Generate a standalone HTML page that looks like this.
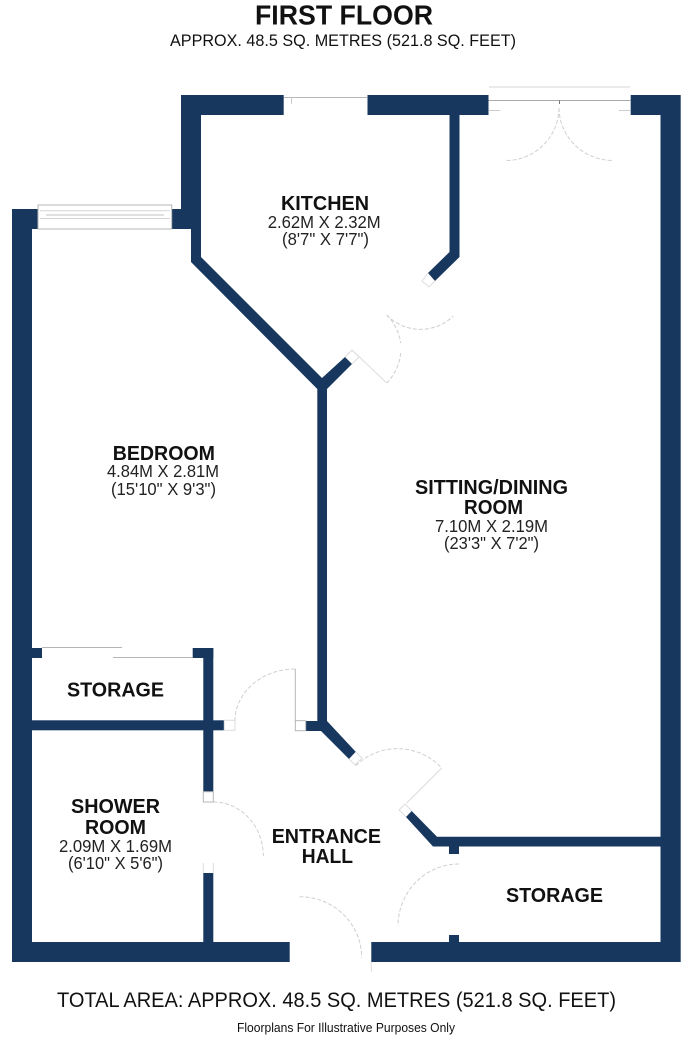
<!DOCTYPE html>
<html lang="en">
<head>
<meta charset="utf-8">
<title>First Floor</title>
<style>
html,body{margin:0;padding:0;background:#fff;width:690px;height:1040px;overflow:hidden}
svg{display:block}
text{font-family:"Liberation Sans",Arial,sans-serif;fill:#111}
.b{font-weight:bold;font-size:20px}
.r{font-size:17.5px;fill:#222}
.w{fill:#17375f;stroke:none}
.g{fill:none;stroke:#b5b5b5;stroke-width:1}
.l{fill:none;stroke:#ddd;stroke-width:1}
.d{fill:none;stroke:#cfcfcf;stroke-width:1;stroke-dasharray:4 2}
</style>
</head>
<body>
<svg width="690" height="1040" viewBox="0 0 690 1040" xmlns="http://www.w3.org/2000/svg">
<!-- outer walls -->
<polygon class="w" points="12,209 38,209 38,229 32,229 32,942 289.7,942 289.7,962 12,962"/>
<polygon class="w" points="371.3,942 660.5,942 660.5,115 630.7,115 630.7,95 680.7,95 680.7,962 371.3,962"/>
<polygon class="w" points="181,95 283.7,95 283.7,115 201,115 201,257 322,378 345,357 352,364 327,389 327,721 355.7,751.7 349,759 321,731 305.7,731 305.7,721 317.3,721 317.3,389 191,262 191,229 171.7,229 171.7,209 181,209"/>
<polygon class="w" points="367.5,95 488.5,95 488.5,115 459.5,115 459.5,257 435,281 428,273 449.5,252 449.5,115 367.5,115"/>
<!-- lower right wall -->
<polygon class="w" points="411.7,811 437,836.7 660.5,836.7 660.5,846.5 459,846.5 459,854 449,854 449,846.5 433,846.5 406,817"/>
<rect class="w" x="449" y="935" width="10" height="8"/>
<!-- interior walls left -->
<rect class="w" x="32" y="648" width="10" height="10"/>
<rect class="w" x="192.7" y="648" width="20.6" height="10"/>
<rect class="w" x="203.3" y="648" width="10" height="144"/>
<rect class="w" x="32" y="720.3" width="192.3" height="10"/>
<rect class="w" x="203.3" y="873" width="10" height="70"/>
<!-- jambs -->
<rect class="l" x="224.3" y="720.3" width="10.7" height="10"/>
<rect class="g" x="295.3" y="720.7" width="10.4" height="10"/>
<rect class="g" x="203.3" y="791.7" width="10" height="10.3"/>
<path class="l" d="M203.3 863V873M213.3 863V873"/>
<path class="l" d="M355.7 751.7L362 758L355 765L349 759"/>
<path class="l" d="M411.7 811L405 804L399 810L406 816.7"/>
<path class="l" d="M428 273L422 281L429 287L435 281"/>
<path class="l" d="M345 357L352 350L359 357L352 364"/>
<!-- windows -->
<rect class="g" x="38" y="205" width="133.7" height="24"/>
<path d="M40 210.7H170M40 218.5H170" stroke="#d5d5d5" stroke-width="1" fill="none"/>
<path d="M46 215H164" stroke="#d5d5d5" stroke-width="1.5" fill="none"/>
<path d="M284 97.5H367" stroke="#b5b5b5" stroke-width="1" fill="none"/>
<path d="M291.5 97V104" stroke="#ccc" stroke-width="1" fill="none"/>
<path d="M489 87H630" stroke="#d5d5d5" stroke-width="1" fill="none"/>
<path d="M488.5 100.5H630.7" stroke="#aaa" stroke-width="1" fill="none"/>
<path d="M489 110.5H500M619 110.5H630.7" stroke="#ccc" stroke-width="1" fill="none"/>
<path d="M559.5 100.5V104" stroke="#777" stroke-width="1" fill="none"/>
<!-- sliding storage doors -->
<path d="M42 647.5H122" stroke="#b5b5b5" stroke-width="1" fill="none"/>
<path d="M113 657.5H192.7" stroke="#b5b5b5" stroke-width="1" fill="none"/>
<!-- door swings -->
<path class="d" d="M559 108A53 53 0 0 1 506 160.5"/>
<path class="d" d="M559 108A54 53 0 0 0 613 160.5"/>
<path class="d" d="M386.7 315A47 47 0 0 0 453.3 316"/>
<path class="d" d="M386.7 315A49 49 0 0 1 400.7 343"/>
<path class="d" d="M400.7 353A49 49 0 0 1 386.7 383"/>
<path class="l" d="M386.7 383L352 350"/>
<path class="d" d="M295 669A60 52 0 0 0 235 720.7"/>
<path class="g" d="M295.3 669V720.7"/>
<path class="d" d="M213.3 802A50 54 0 0 1 263.3 856"/>
<path class="d" d="M355.7 765.7A60 60 0 0 1 441.7 768"/>
<path class="l" d="M441.7 768L406.7 803"/>
<path class="d" d="M299.5 896.7A62 61 0 0 1 361.7 957.7"/>
<path class="l" d="M371.3 962V972"/>
<path class="d" d="M459 864A61 62 0 0 0 398 925.7"/>
<!-- text -->
<text x="255" y="24.5" font-weight="bold" font-size="28" textLength="178" lengthAdjust="spacingAndGlyphs">FIRST FLOOR</text>
<text x="170" y="46" font-size="16.5" textLength="346" lengthAdjust="spacingAndGlyphs">APPROX. 48.5 SQ. METRES (521.8 SQ. FEET)</text>

<text class="b" x="281" y="210" textLength="88" lengthAdjust="spacingAndGlyphs">KITCHEN</text>
<text class="r" x="267.7" y="228" textLength="113" lengthAdjust="spacingAndGlyphs">2.62M X 2.32M</text>
<text class="r" x="282" y="245" textLength="87" lengthAdjust="spacingAndGlyphs">(8'7" X 7'7")</text>

<text class="b" x="112.7" y="460" textLength="102.3" lengthAdjust="spacingAndGlyphs">BEDROOM</text>
<text class="r" x="107" y="477" textLength="112" lengthAdjust="spacingAndGlyphs">4.84M X 2.81M</text>
<text class="r" x="111" y="495" textLength="105" lengthAdjust="spacingAndGlyphs">(15'10" X 9'3")</text>

<text class="b" x="415" y="494" textLength="153" lengthAdjust="spacingAndGlyphs">SITTING/DINING</text>
<text class="b" x="464" y="514" textLength="59" lengthAdjust="spacingAndGlyphs">ROOM</text>
<text class="r" x="435" y="532" textLength="113" lengthAdjust="spacingAndGlyphs">7.10M X 2.19M</text>
<text class="r" x="444" y="549" textLength="95" lengthAdjust="spacingAndGlyphs">(23'3" X 7'2")</text>

<text class="b" x="67" y="696.5" textLength="97" lengthAdjust="spacingAndGlyphs">STORAGE</text>

<text class="b" x="71" y="813" textLength="89" lengthAdjust="spacingAndGlyphs">SHOWER</text>
<text class="b" x="85" y="834" textLength="61" lengthAdjust="spacingAndGlyphs">ROOM</text>
<text class="r" x="59" y="852" textLength="113" lengthAdjust="spacingAndGlyphs">2.09M X 1.69M</text>
<text class="r" x="68" y="869" textLength="95" lengthAdjust="spacingAndGlyphs">(6'10" X 5'6")</text>

<text class="b" x="271.7" y="843" textLength="109.3" lengthAdjust="spacingAndGlyphs">ENTRANCE</text>
<text class="b" x="301.7" y="863" textLength="51.3" lengthAdjust="spacingAndGlyphs">HALL</text>

<text class="b" x="506" y="902" textLength="97" lengthAdjust="spacingAndGlyphs">STORAGE</text>

<text x="57" y="1007" font-size="21.5" textLength="559" lengthAdjust="spacingAndGlyphs">TOTAL AREA: APPROX. 48.5 SQ. METRES (521.8 SQ. FEET)</text>
<text x="237" y="1032" font-size="12.5" textLength="218" lengthAdjust="spacingAndGlyphs">Floorplans For Illustrative Purposes Only</text>
</svg>
</body>
</html>
